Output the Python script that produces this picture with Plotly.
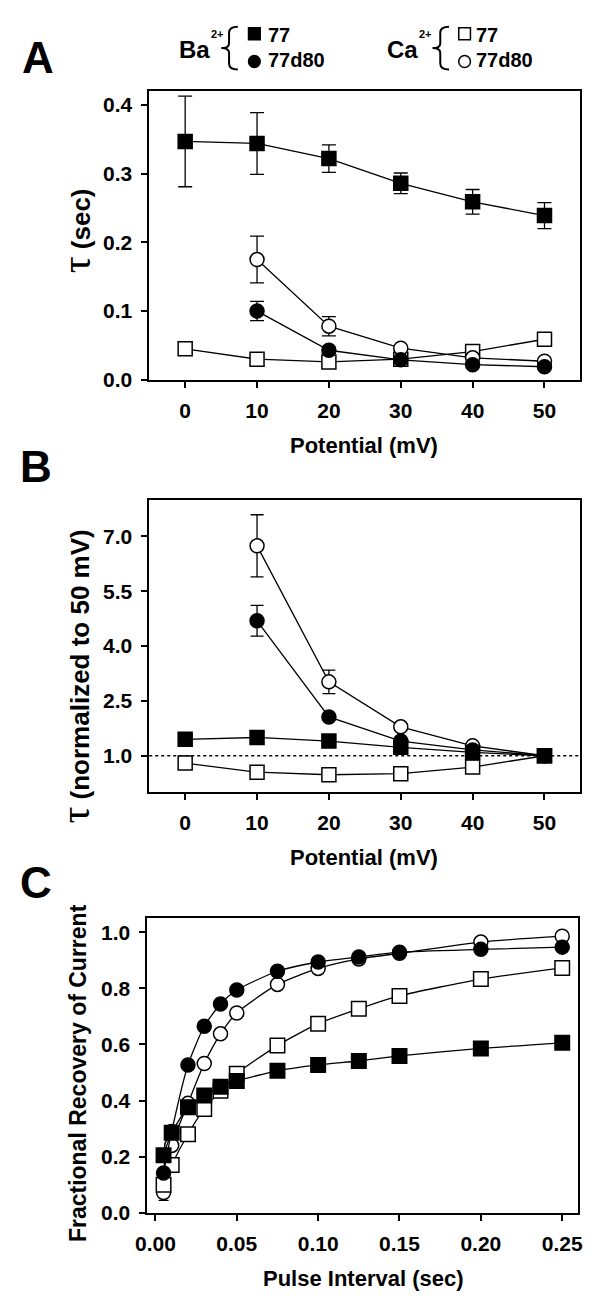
import plotly.graph_objects as go

W, H = 600, 1312
FONT = "Liberation Sans, Arial, sans-serif"

# ---------------- data ----------------
potential = [0, 10, 20, 30, 40, 50]
potential_d80 = [10, 20, 30, 40, 50]

A_ba77 = [0.347, 0.344, 0.322, 0.286, 0.259, 0.239]
A_ba77_err = [0.066, 0.045, 0.020, 0.015, 0.018, 0.019]
A_ba77d80 = [0.100, 0.043, 0.029, 0.022, 0.019]
A_ba77d80_err = [0.014, 0.004, 0.002, 0.002, 0.002]
A_ca77 = [0.045, 0.030, 0.026, 0.030, 0.041, 0.059]
A_ca77d80 = [0.175, 0.078, 0.046, 0.032, 0.027]
A_ca77d80_err = [0.034, 0.014, 0.003, 0.002, 0.002]

B_ba77 = [1.45, 1.50, 1.40, 1.23, 1.09, 1.00]
B_ba77_err = [0.08, 0.10, 0.05, 0.04, 0.03, 0.0]
B_ba77d80 = [4.69, 2.06, 1.40, 1.16, 1.00]
B_ba77d80_err = [0.42, 0.08, 0.05, 0.03, 0.0]
B_ca77 = [0.80, 0.55, 0.48, 0.51, 0.69, 1.00]
B_ca77d80 = [6.74, 3.02, 1.79, 1.27, 1.00]
B_ca77d80_err = [0.85, 0.32, 0.08, 0.05, 0.0]

C_interval = [0.005, 0.01, 0.02, 0.03, 0.04, 0.05, 0.075, 0.1, 0.125, 0.15, 0.2, 0.25]
C_ba77 = [0.205, 0.285, 0.376, 0.418, 0.449, 0.470, 0.506, 0.527, 0.541, 0.559, 0.586, 0.606]
C_ba77d80 = [0.142, 0.290, 0.527, 0.665, 0.744, 0.794, 0.861, 0.894, 0.912, 0.929, 0.939, 0.947]
C_ca77 = [0.100, 0.170, 0.280, 0.370, 0.435, 0.496, 0.596, 0.674, 0.727, 0.773, 0.833, 0.873]
C_ca77d80 = [0.072, 0.240, 0.390, 0.532, 0.638, 0.712, 0.814, 0.871, 0.905, 0.925, 0.965, 0.986]
C_ca77d80_err = [0.028, 0, 0, 0, 0, 0, 0, 0, 0, 0, 0, 0]

A_yticks = [0.0, 0.1, 0.2, 0.3, 0.4]
B_yticks = [1.0, 2.5, 4.0, 5.5, 7.0]
C_yticks = [0.0, 0.2, 0.4, 0.6, 0.8, 1.0]
C_xticks = [0.0, 0.05, 0.10, 0.15, 0.20, 0.25]

# ---------------- helpers ----------------
def px(x):
    return x / W

def py(y):
    return 1 - y / H

fig = go.Figure()

def add(x, y, sym, filled, xa, ya, err=None, size=14, spline=False, cap=7):
    t = dict(
        x=x, y=y, mode="lines+markers", xaxis=xa, yaxis=ya, showlegend=False,
        line=dict(color="black", width=1.3, shape="spline" if spline else "linear",
                  smoothing=0.6),
        marker=dict(symbol=sym, size=size, color="black" if filled else "white",
                    line=dict(color="black", width=1.5)),
    )
    if err is not None:
        t["error_y"] = dict(type="data", array=err, visible=True, color="black",
                            thickness=1.3, width=cap)
    fig.add_trace(go.Scatter(**t))

# Panel A
add(potential, A_ca77, "square", False, "x", "y")
add(potential_d80, A_ca77d80, "circle", False, "x", "y", A_ca77d80_err)
add(potential_d80, A_ba77d80, "circle", True, "x", "y", A_ba77d80_err)
add(potential, A_ba77, "square", True, "x", "y", A_ba77_err)

# Panel B
add(potential, B_ca77, "square", False, "x2", "y2")
add(potential_d80, B_ca77d80, "circle", False, "x2", "y2", B_ca77d80_err, cap=6.5)
add(potential_d80, B_ba77d80, "circle", True, "x2", "y2", B_ba77d80_err, cap=6.5)
add(potential, B_ba77, "square", True, "x2", "y2", B_ba77_err, cap=6.5)

# Panel C
add(C_interval, C_ca77d80, "circle", False, "x3", "y3", C_ca77d80_err, size=14, spline=True, cap=5)
add(C_interval, C_ca77, "square", False, "x3", "y3", size=14.5, spline=True)
add(C_interval, C_ba77, "square", True, "x3", "y3", size=14.5, spline=True)
add(C_interval, C_ba77d80, "circle", True, "x3", "y3", size=14, spline=True)

# ---------------- axes ----------------
def axis(**kw):
    d = dict(showline=True, linecolor="black", linewidth=1.6, mirror=True,
             ticks="outside", ticklen=6, tickwidth=1.5, tickcolor="black",
             showgrid=False, zeroline=False,
             tickfont=dict(family=FONT, size=21, color="black", weight="bold"))
    d.update(kw)
    return d

A_box = (141, 584, 92, 383)
B_box = (141, 584, 504, 799)
C_box = (139, 582, 926, 1223)

def dom(b):
    return [px(b[0]), px(b[1])], [py(b[3]), py(b[2])]

ax_, ay_ = dom(A_box)
bx_, by_ = dom(B_box)
cx_, cy_ = dom(C_box)

fig.update_layout(
    width=W, height=H, margin=dict(l=0, r=0, t=0, b=0),
    paper_bgcolor="white", plot_bgcolor="white",
    xaxis=axis(domain=ax_, range=[-5, 55], tickvals=potential, anchor="y",
               ticklabelstandoff=5),
    yaxis=axis(domain=ay_, range=[0, 0.42], tickvals=A_yticks, tickformat=".1f",
               anchor="x", ticklabelstandoff=5),
    xaxis2=axis(domain=bx_, range=[-5, 55], tickvals=potential, anchor="y2",
                ticklabelstandoff=5),
    yaxis2=axis(domain=by_, range=[0, 8], tickvals=B_yticks, tickformat=".1f",
                anchor="x2", ticklabelstandoff=5),
    xaxis3=axis(domain=cx_, range=[-0.005, 0.26], tickvals=C_xticks, tickformat=".2f",
                anchor="y3", ticklabelstandoff=5),
    yaxis3=axis(domain=cy_, range=[0, 1.05], tickvals=C_yticks, tickformat=".1f",
                anchor="x3", ticklabelstandoff=5),
)

# ---------------- annotations ----------------
ann = []

def text(x, y, s, size, bold=True, angle=0, xanchor="center", yanchor="middle"):
    ann.append(dict(x=px(x), y=py(y), xref="paper", yref="paper", text=s,
                    showarrow=False, textangle=angle, xanchor=xanchor, yanchor=yanchor,
                    font=dict(family=FONT, size=size, color="black",
                              weight="bold" if bold else "normal")))

TAU = ("<span style='font-family:Liberation Serif, serif;font-size:42px;"
       "font-weight:normal'>τ</span>")

# panel letters
text(27, 58, "A", 44)
text(25, 470, "B", 44)
text(25, 890, "C", 44)

# axis titles
text(362, 449, "Potential (mV)", 22)
text(362, 865, "Potential (mV)", 22)
text(361, 1289, "Pulse Interval (sec)", 22)
text(66, 233, TAU + " (sec)", 26, angle=-90)
text(65, 682, TAU + " (normalized to 50 mV)", 26, angle=-90)
text(68, 1082, "Fractional Recovery of Current", 23, angle=-90)

# legend text
text(170, 50, "Ba", 24, xanchor="left")
text(202, 34, "2+", 11, xanchor="left")
text(261, 35, "77", 20, xanchor="left")
text(261, 61, "77d80", 20, xanchor="left")
text(383, 50, "Ca", 24, xanchor="left")
text(416, 34, "2+", 11, xanchor="left")
text(475, 35, "77", 20, xanchor="left")
text(475, 61, "77d80", 20, xanchor="left")

fig.update_layout(annotations=ann)

# ---------------- shapes ----------------
shapes = []

def P(x, y):
    return f"{px(x):.5f},{py(y):.5f}"

def brace(xr, xs, xl, yt, yb):
    ym = (yt + yb) / 2
    path = (f"M{P(xr, yt)} Q{P(xs, yt)} {P(xs, yt + 6)} L{P(xs, ym - 5)} "
            f"Q{P(xs, ym)} {P(xl, ym)} Q{P(xs, ym)} {P(xs, ym + 5)} "
            f"L{P(xs, yb - 6)} Q{P(xs, yb)} {P(xr, yb)}")
    shapes.append(dict(type="path", path=path, xref="paper", yref="paper",
                       line=dict(color="black", width=2)))

brace(232, 223, 215, 27, 70)
brace(449, 440, 432, 27, 70)

def marker_shape(kind, cx, cy, filled, s=12):
    shapes.append(dict(type=kind, xref="paper", yref="paper",
                       x0=px(cx - s / 2), x1=px(cx + s / 2),
                       y0=py(cy + s / 2), y1=py(cy - s / 2),
                       fillcolor="black" if filled else "white",
                       line=dict(color="black", width=1.5)))

marker_shape("rect", 249, 34, True)
marker_shape("circle", 249, 62, True)
marker_shape("rect", 465, 34, False)
marker_shape("circle", 465, 62, False)

# reference line at normalized value 1.0 in panel B
shapes.append(dict(type="line", xref="x2 domain", yref="y2", x0=0, x1=1, y0=1, y1=1,
                   line=dict(color="black", width=1.3, dash="dot"), layer="below"))

fig.update_layout(shapes=shapes)

fig.write_html("out.html",
               config={"displayModeBar": False},
               post_script="document.body.style.margin='0';"
                           "document.body.style.overflow='hidden';")
